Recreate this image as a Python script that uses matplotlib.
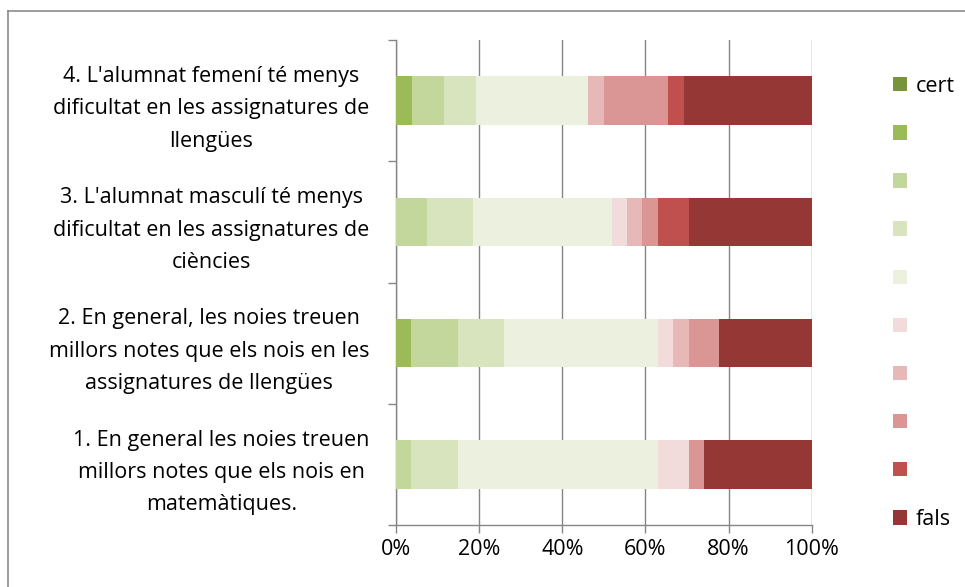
import matplotlib
matplotlib.use("Agg")
import matplotlib.pyplot as plt
from matplotlib.patches import Patch
from matplotlib.lines import Line2D
from matplotlib.ticker import FuncFormatter

plt.rcParams['font.family'] = ['Open Sans', 'DejaVu Sans']

questions = [
    "1. En general les noies treuen\nmillors notes que els nois en\nmatemàtiques.",
    "2. En general, les noies treuen\nmillors notes que els nois en les\nassignatures de llengües",
    "3. L'alumnat masculí té menys\ndificultat en les assignatures de\nciències",
    "4. L'alumnat femení té menys\ndificultat en les assignatures de\nllengües",
]

# percentage of answers per level, questions 1..4
level_labels = ["cert", "", "", "", "", "", "", "", "", "fals"]
level_colors = ["#77933C", "#9BBB59", "#C3D69B", "#D7E4BD", "#EBF1DE",
                "#F2DCDB", "#E6B9B8", "#D99694", "#C0504D", "#953735"]
lvl1 = [0.0, 0.0, 0.0, 0.0]
lvl2 = [0.0, 3.7, 0.0, 3.8]
lvl3 = [3.7, 11.1, 7.4, 7.7]
lvl4 = [11.1, 11.1, 11.1, 7.7]
lvl5 = [48.2, 37.0, 33.3, 26.9]
lvl6 = [7.4, 3.7, 3.7, 0.0]
lvl7 = [0.0, 3.7, 3.7, 3.8]
lvl8 = [3.7, 7.4, 3.7, 15.4]
lvl9 = [0.0, 0.0, 7.4, 3.8]
lvl10 = [25.9, 22.2, 29.6, 30.8]
levels = [lvl1, lvl2, lvl3, lvl4, lvl5, lvl6, lvl7, lvl8, lvl9, lvl10]

W, H = 965, 587
fig = plt.figure(figsize=(W / 100, H / 100), dpi=100)
ax = fig.add_axes([396 / W, 1 - 525 / H, 415.7 / W, 485 / H])

ypos = list(range(len(questions)))
totals = [sum(l[i] for l in levels) for i in ypos]
left = [0.0] * len(questions)
for vals, col in zip(levels, level_colors):
    pct = [v / t * 100 for v, t in zip(vals, totals)]
    ax.barh(ypos, pct, left=left, height=0.4, color=col, edgecolor='none', zorder=3)
    left = [a + b for a, b in zip(left, pct)]

grid_col = '#868686'
txt_size = 15.5
ax.set_xlim(0, 100)
ax.set_ylim(-0.5, len(questions) - 0.5)
ax.set_xticks(range(0, 101, 20))
ax.xaxis.set_major_formatter(FuncFormatter(lambda v, p: f"{v:.0f}%"))
ax.grid(axis='x', color=grid_col, linewidth=1.0, zorder=0)
ax.set_yticks(ypos)
ax.set_yticklabels(questions, fontsize=txt_size, multialignment='center', linespacing=1.71)
ax.set_yticks([y - 0.5 for y in range(len(questions) + 1)], minor=True)
ax.tick_params(axis='y', which='major', length=0, pad=19)
ax.tick_params(axis='y', which='minor', length=6, color=grid_col, width=1)
ax.tick_params(axis='x', length=6, color=grid_col, width=1, labelsize=txt_size, pad=4)
for s in ['top', 'right']:
    ax.spines[s].set_visible(False)
for s in ['left', 'bottom']:
    ax.spines[s].set_color(grid_col)
    ax.spines[s].set_linewidth(1)

handles = [Patch(facecolor=c, edgecolor='none') for c in level_colors]
fig.legend(handles, level_labels, loc='upper left', bbox_to_anchor=(882 / W, 1 - 65 / H),
           frameon=False, fontsize=txt_size, handlelength=0.65, handleheight=0.65,
           handletextpad=0.4, labelspacing=1.26, borderpad=0)

# chart frame
fig.add_artist(Line2D([8 / W, 8 / W], [0, 1 - 11 / H], color='#8c8c8c', lw=1.2))
fig.add_artist(Line2D([8 / W, 1], [1 - 11 / H, 1 - 11 / H], color='#8c8c8c', lw=1.2))

fig.savefig("out.png", dpi=100)
